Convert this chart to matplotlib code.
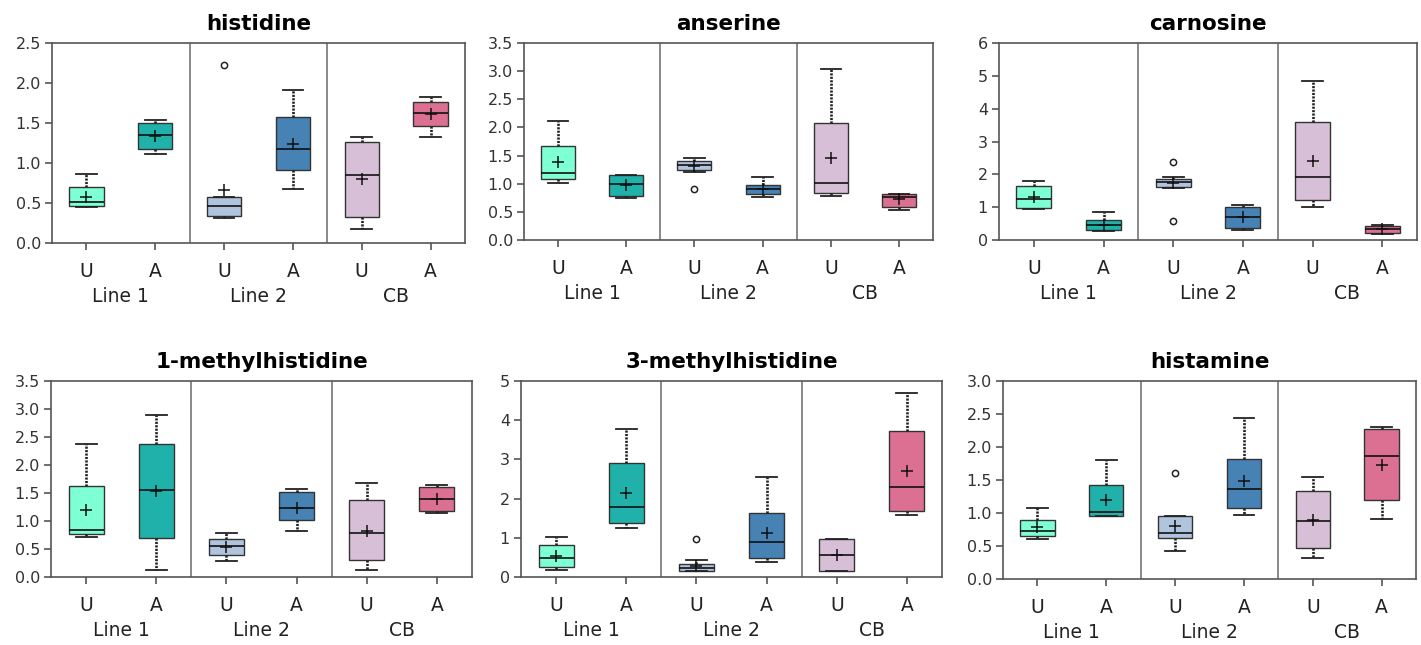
import numpy as np
import matplotlib
matplotlib.use('Agg')
import matplotlib.pyplot as plt
from matplotlib.ticker import MultipleLocator, FormatStrFormatter

#-----------------------------------------------------------------------
#	DATA
#-----------------------------------------------------------------------
compounds = ['histidine', 'anserine', 'carnosine',
             '1-methylhistidine', '3-methylhistidine', 'histamine']
treat_labels = ['U', 'A', 'U', 'A', 'U', 'A']
group_labels = ['Line 1', 'Line 2', 'CB']
box_colors = ['#7FFFD4', '#20B2AA', '#B0C4DE', '#4682B4', '#D8BFD8', '#DB7093']

y_max = [2.5, 3.5, 6, 3.5, 5, 3.0]
y_step = [0.5, 0.5, 1, 0.5, 1, 0.5]
y_fmt = ['%.1f', '%.1f', '%d', '%.1f', '%d', '%.1f']

# order in each row: Line1 U, Line1 A, Line2 U, Line2 A, CB U, CB A
whislo = [[0.45, 1.11, 0.31, 0.67, 0.18, 1.33],
          [1.01, 0.74, 1.21, 0.76, 0.78, 0.53],
          [0.94, 0.26, 1.57, 0.29, 1.00, 0.18],
          [0.72, 0.13, 0.29, 0.83, 0.13, 1.14],
          [0.19, 1.24, 0.16, 0.39, 0.16, 1.58],
          [0.60, 0.95, 0.42, 0.97, 0.32, 0.91]]
q1 = [[0.46, 1.18, 0.34, 0.91, 0.33, 1.46],
      [1.08, 0.78, 1.24, 0.81, 0.84, 0.59],
      [0.97, 0.29, 1.61, 0.37, 1.23, 0.21],
      [0.76, 0.69, 0.39, 1.02, 0.31, 1.18],
      [0.26, 1.39, 0.16, 0.48, 0.16, 1.68],
      [0.65, 0.96, 0.62, 1.08, 0.47, 1.19]]
med = [[0.51, 1.355, 0.46, 1.18, 0.855, 1.63],
       [1.19, 1.00, 1.33, 0.90, 1.01, 0.76],
       [1.25, 0.46, 1.77, 0.70, 1.93, 0.34],
       [0.845, 1.56, 0.56, 1.23, 0.78, 1.40],
       [0.49, 1.79, 0.24, 0.90, 0.56, 2.29],
       [0.73, 1.02, 0.69, 1.36, 0.88, 1.86]]
q3 = [[0.70, 1.50, 0.57, 1.58, 1.26, 1.76],
      [1.67, 1.16, 1.40, 0.97, 2.08, 0.81],
      [1.63, 0.62, 1.87, 1.00, 3.60, 0.43],
      [1.63, 2.38, 0.68, 1.51, 1.37, 1.61],
      [0.82, 2.91, 0.32, 1.62, 0.98, 3.72],
      [0.90, 1.43, 0.95, 1.82, 1.33, 2.28]]
whishi = [[0.86, 1.535, 0.57, 1.91, 1.32, 1.83],
          [2.12, 1.16, 1.46, 1.12, 3.04, 0.82],
          [1.81, 0.85, 1.92, 1.08, 4.84, 0.45],
          [2.38, 2.90, 0.79, 1.58, 1.67, 1.65],
          [1.03, 3.78, 0.43, 2.55, 0.98, 4.69],
          [1.07, 1.80, 0.95, 2.44, 1.54, 2.30]]
means = [[0.58, 1.34, 0.66, 1.24, 0.80, 1.61],
         [1.38, 0.97, 1.32, 0.90, 1.46, 0.72],
         [1.30, 0.46, 1.74, 0.70, 2.42, 0.33],
         [1.19, 1.54, 0.54, 1.24, 0.83, 1.39],
         [0.54, 2.15, 0.28, 1.13, 0.56, 2.70],
         [0.79, 1.20, 0.81, 1.49, 0.90, 1.73]]
outliers = [[[], [], [2.23], [], [], []],
            [[], [], [0.91], [], [], []],
            [[], [], [2.39, 0.57], [], [], []],
            [[], [], [], [], [], []],
            [[], [], [0.98], [], [], []],
            [[], [], [1.60], [], [], []]]

#-----------------------------------------------------------------------
#	PLOT
#-----------------------------------------------------------------------
W, H = 1421, 645
fig = plt.figure(figsize=(W / 100, H / 100), dpi=100)

# axes boxes in pixels: left, top, right, bottom
ax_px = [(52, 43, 465, 243), (524, 43, 933, 240), (999, 43, 1417, 240),
         (51, 381, 472, 577), (521, 381, 942, 577), (1003, 381, 1416, 579)]

edge = '#333333'
for k in range(6):
	l, t, r, b = ax_px[k]
	ax = fig.add_axes([l / W, 1 - b / H, (r - l) / W, (b - t) / H])
	stats = []
	for i in range(6):
		stats.append(dict(whislo=whislo[k][i], q1=q1[k][i], med=med[k][i],
		                  q3=q3[k][i], whishi=whishi[k][i], mean=means[k][i],
		                  fliers=outliers[k][i]))
	bp = ax.bxp(stats, positions=np.arange(1, 7), widths=0.5, capwidths=0.3,
	            patch_artist=True, showmeans=True,
	            boxprops=dict(edgecolor=edge, linewidth=1.0),
	            medianprops=dict(color='#111111', linewidth=1.2),
	            whiskerprops=dict(color='#222222', linewidth=1.9, linestyle=(0, (0.8, 0.5))),
	            capprops=dict(color='#222222', linewidth=1.3),
	            meanprops=dict(marker='+', markeredgecolor='#111111', markersize=9,
	                           markeredgewidth=1.1),
	            flierprops=dict(marker='o', markerfacecolor='white',
	                            markeredgecolor='#222222', markersize=4.5,
	                            markeredgewidth=1.1))
	for patch, c in zip(bp['boxes'], box_colors):
		patch.set_facecolor(c)

	for xs in (2.5, 4.5):
		ax.axvline(xs, color='#808080', lw=1.3, zorder=0)

	ax.set_xlim(0.5, 6.5)
	ax.set_ylim(0, y_max[k])
	ax.yaxis.set_major_locator(MultipleLocator(y_step[k]))
	ax.yaxis.set_major_formatter(FormatStrFormatter(y_fmt[k]))
	ax.set_xticks(np.arange(1, 7))
	ax.set_xticklabels(treat_labels)
	ax.tick_params(axis='y', direction='out', length=5, width=1.2, color='#555555',
	               labelsize=11.5, labelcolor='#333333', pad=3)
	ax.tick_params(axis='x', direction='out', length=5, width=1.2, color='#555555',
	               labelsize=13.5, labelcolor='#222222', pad=9)
	for sp in ax.spines.values():
		sp.set_color('#555555')
		sp.set_linewidth(1.2)

	for g in range(3):
		ax.annotate(group_labels[g], xy=(2 * g + 1.5, 0), xycoords=('data', 'axes fraction'),
		            xytext=(0, -32), textcoords='offset points',
		            ha='center', va='top', fontsize=13.5, color='#222222')

	ax.set_title(compounds[k], fontsize=15.5, fontweight='bold', pad=9)

plt.savefig('out.png', dpi=100)
